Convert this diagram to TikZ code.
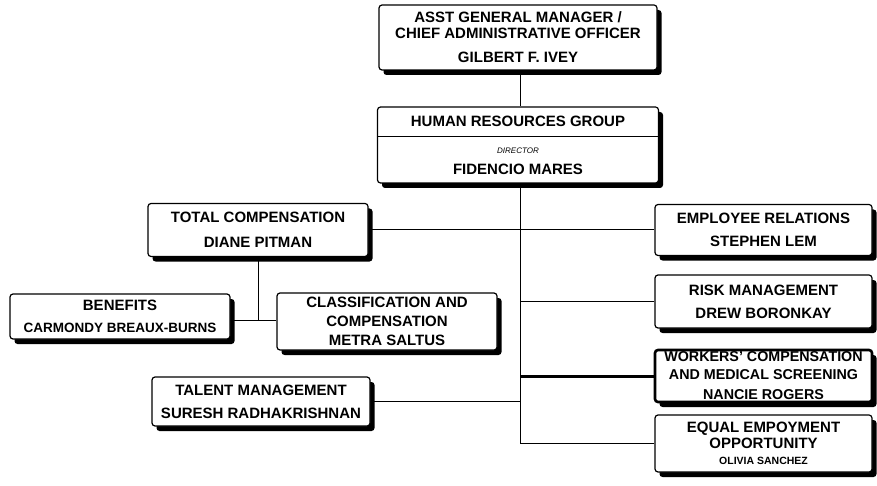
\documentclass[tikz,border=0pt]{standalone}
\usepackage{fontspec}
\setmainfont{Liberation Sans}
\usepackage{tikz}
\usetikzlibrary{shadows}
\usetikzlibrary{calc}

\tikzset{
  orgbox/.style={draw, line width=1.2pt, rounded corners=3pt, fill=white,
    drop shadow={shadow xshift=4.5pt, shadow yshift=-5pt, fill=black, opacity=1},
    align=center, inner sep=0pt,
    font=\bfseries\fontsize{15}{16}\selectfont},
  heavybox/.style={orgbox, line width=2.6pt, font=\bfseries\fontsize{14.3}{16}\selectfont},
  link/.style={line width=1pt},
  heavylink/.style={line width=3pt},
}
\newcommand{\titlesmall}[1]{{\mdseries\itshape\fontsize{8}{9}\selectfont #1}}

\begin{document}
\begin{tikzpicture}[x=1pt,y=-1pt]
  \useasboundingbox (0,0) rectangle (877,486);

  % top of the group
  \node[orgbox, minimum width=278, minimum height=65] (agm) at (518,37.5)
    {ASST GENERAL MANAGER /\\ CHIEF ADMINISTRATIVE OFFICER\\[8pt] GILBERT F. IVEY};
  \node[orgbox, minimum width=281, minimum height=76] (hr) at (518,145)
    {HUMAN RESOURCES GROUP\\[11pt] \titlesmall{DIRECTOR}\\[5pt] FIDENCIO MARES};
  \draw[line width=0.6pt] ([yshift=-30pt]hr.north west) -- ([yshift=-30pt]hr.north east);

  % left side
  \node[orgbox, minimum width=220, minimum height=53] (total) at (258,230)
    {TOTAL COMPENSATION\\[9pt] DIANE PITMAN};
  \node[orgbox, minimum width=220, minimum height=45] (benefits) at (120,316.5)
    {BENEFITS\\[6pt] {\fontsize{13.5}{16}\selectfont CARMONDY BREAUX-BURNS}};
  \node[orgbox, minimum width=220, minimum height=57] (classif) at (387,321.5)
    {CLASSIFICATION AND\\[3pt] COMPENSATION\\[3pt] METRA SALTUS};
  \node[orgbox, minimum width=218, minimum height=49] (talent) at (261,401.5)
    {TALENT MANAGEMENT\\[7pt] SURESH RADHAKRISHNAN};

  % right side
  \node[orgbox, minimum width=217, minimum height=51] (emprel) at (763.5,230)
    {EMPLOYEE RELATIONS\\[7pt] STEPHEN LEM};
  \node[orgbox, minimum width=217, minimum height=53] (risk) at (763.5,301.5)
    {RISK MANAGEMENT\\[7pt] DREW BORONKAY};
  \node[heavybox, minimum width=217, minimum height=52] (workers) at (763.5,376)
    {WORKERS' COMPENSATION\\[2pt] AND MEDICAL SCREENING\\[4pt] NANCIE ROGERS};
  \node[orgbox, minimum width=217, minimum height=57] (eeo) at (763.5,443.5)
    {EQUAL EMPOYMENT\\ OPPORTUNITY\\ {\fontsize{10.5}{12}\selectfont OLIVIA SANCHEZ}};

  % connectors
  \coordinate (spine) at ($(hr.south)+(2,0)$);
  \coordinate (tcjoin) at (total.south |- 0,320);
  \draw[link] (agm.south -| spine) -- (hr.north -| spine);
  \draw[link] (spine) -- (spine |- eeo.west);
  \draw[link] (total.east) -- (emprel.west);
  \draw[link] (risk.west) -- (spine |- risk.west);
  \draw[heavylink] (workers.west) -- (spine |- workers.west);
  \draw[link] (eeo.west) -- (spine |- eeo.west);
  \draw[link] (talent.east) -- (spine |- talent.east);
  \draw[link] (total.south) -- (tcjoin);
  \draw[link] (benefits.east |- tcjoin) -- (classif.west |- tcjoin);
\end{tikzpicture}
\end{document}
